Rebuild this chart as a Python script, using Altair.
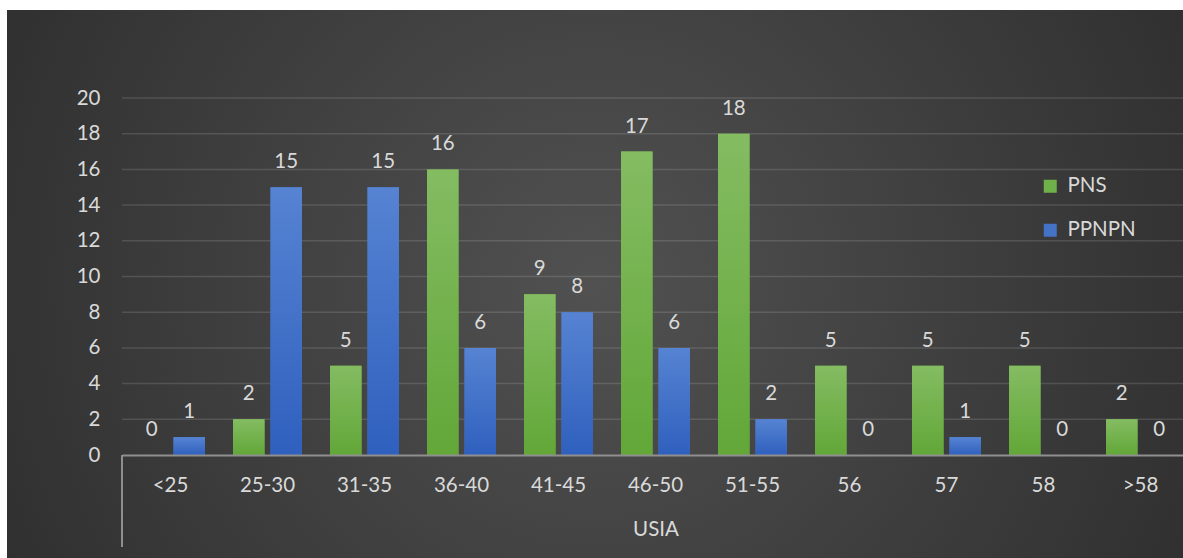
import altair as alt
import pandas as pd

categories = ["<25", "25-30", "31-35", "36-40", "41-45", "46-50", "51-55", "56", "57", "58", ">58"]
pns_values = [0, 2, 5, 16, 9, 17, 18, 5, 5, 5, 2]
ppnpn_values = [1, 15, 15, 6, 8, 6, 2, 0, 1, 0, 0]
series_names = ["PNS", "PPNPN"]
y_ticks = [0, 2, 4, 6, 8, 10, 12, 14, 16, 18, 20]
grid_ticks = [2, 4, 6, 8, 10, 12, 14, 16, 18, 20]

rows = []
for c, a, b in zip(categories, pns_values, ppnpn_values):
    rows.append({"cat": c, "series": "PNS", "value": a})
    rows.append({"cat": c, "series": "PPNPN", "value": b})
df = pd.DataFrame(rows)
grid_df = pd.DataFrame({"value": grid_ticks})

FONT = "Lato"
TXT = "#d9d9d9"
FS = 20.5
W, H = 1061, 357

green_solid = "#70b04a"
blue_solid = "#4472c4"
green_grad = alt.LinearGradient(gradient="linear", x1=0, y1=0, x2=0, y2=1,
                                stops=[alt.GradientStop(color="#84bc62", offset=0),
                                       alt.GradientStop(color="#62a738", offset=1)])
blue_grad = alt.LinearGradient(gradient="linear", x1=0, y1=0, x2=0, y2=1,
                               stops=[alt.GradientStop(color="#5683d2", offset=0),
                                      alt.GradientStop(color="#2f60be", offset=1)])
bg_grad = alt.RadialGradient(gradient="radial", x1=0.5, y1=0.5, r1=0, x2=0.5, y2=0.5, r2=0.72,
                             stops=[alt.GradientStop(color="#515151", offset=0),
                                    alt.GradientStop(color="#262626", offset=1)])

x_enc = alt.X("cat:N", sort=categories,
              scale=alt.Scale(range=[0, 1067], paddingInner=0.29, paddingOuter=0.145),
              axis=alt.Axis(title="USIA", labelAngle=0, labelFontSize=FS, labelColor=TXT,
                            labelFont=FONT, labelPadding=20, ticks=False,
                            domainColor="#8f8f8f", domainWidth=2,
                            titleFontSize=FS, titleColor=TXT, titleFont=FONT,
                            titleFontWeight="normal", titlePadding=24, zindex=1))
xo_enc = alt.XOffset("series:N", sort=series_names,
                     scale=alt.Scale(domain=series_names, paddingInner=0.16))
y_axis = alt.Axis(title=None, values=y_ticks, grid=False, ticks=False, domain=False,
                  labelFontSize=FS, labelColor=TXT, labelFont=FONT,
                  labelPadding=22, zindex=1)
y_enc = alt.Y("value:Q", scale=alt.Scale(domain=[0, 20], nice=False), axis=y_axis)

bg = alt.Chart(alt.Data(values=[{"k": 1}])).mark_rect(color=bg_grad).encode(
    x=alt.value(-115), x2=alt.value(W), y=alt.value(-88), y2=alt.value(460))

grid = alt.Chart(grid_df).mark_rule(color="#ffffff", opacity=0.13, strokeWidth=1.5).encode(
    y=y_enc, x=alt.value(0), x2=alt.value(W))

sep = alt.Chart(alt.Data(values=[{"k": 1}])).mark_rule(color="#8f8f8f", strokeWidth=2).encode(
    x=alt.value(0), y=alt.value(H), y2=alt.value(449))

bars = alt.Chart(df).mark_bar().encode(
    x=x_enc, xOffset=xo_enc, y=y_enc,
    color=alt.Color("series:N",
                    scale=alt.Scale(domain=series_names, range=[green_solid, blue_solid]),
                    legend=alt.Legend(title=None, orient="none", legendX=918, legendY=78,
                                      symbolType="square", symbolSize=169, symbolStrokeWidth=0,
                                      labelFontSize=FS, labelColor=TXT, labelFont=FONT,
                                      rowPadding=23, labelOffset=7, zindex=1)))

pns_bars = alt.Chart(df).transform_filter(alt.datum.series == "PNS").mark_bar(color=green_grad).encode(
    x=x_enc, xOffset=xo_enc, y=y_enc)
ppnpn_bars = alt.Chart(df).transform_filter(alt.datum.series == "PPNPN").mark_bar(color=blue_grad).encode(
    x=x_enc, xOffset=xo_enc, y=y_enc)

labels = alt.Chart(df).mark_text(dy=-25, baseline="middle", align="center", fontSize=FS,
                                 color=TXT, font=FONT).encode(
    x=x_enc, xOffset=xo_enc, y=y_enc, text=alt.Text("value:Q"))

chart = alt.layer(bg, grid, sep, bars, pns_bars, ppnpn_bars, labels).properties(
    width=W, height=H,
    autosize=alt.AutoSizeParams(type="none"),
    padding={"left": 122, "top": 98, "right": 0, "bottom": 103},
    background="white",
).configure_view(stroke=None).configure(font=FONT)

chart.save("out.html", embed_options={"renderer": "svg", "actions": False})
